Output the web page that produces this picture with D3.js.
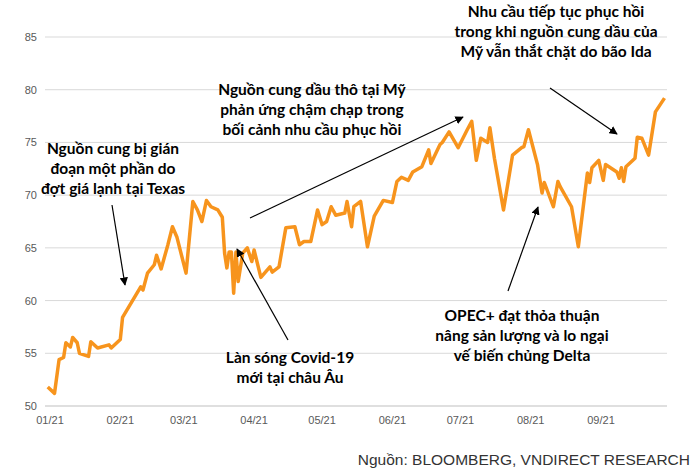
<!DOCTYPE html>
<html><head><meta charset="utf-8">
<script src="https://cdn.jsdelivr.net/npm/d3@7"></script>
<style>body{margin:0;background:#fff}</style></head>
<body><svg id="c" width="693" height="468"></svg>
<script>
const days=[-1,2,4,6,7,9,10,12,13,17,18,21,26,27,31,32,40,41,43,46,47,49,52,54,56,60,63,65,67,69,71,74,76,77,78,79,80,81,82,83,85,87,89,90,93,97,98,101,104,108,110,112,115,118,120,122,124,126,130,131,133,134,137,140,143,147,151,153,155,158,160,164,167,168,172,173,176,180,184,186,188,190,193,194,196,200,204,208,209,211,215,217,218,222,224,225,230,233,237,238,239,242,244,245,250,251,252,253,254,258,259,261,264,267,271];
const prices=[51.8,51.2,54.4,54.6,56,55.6,56.5,56,55,54.7,56.1,55.5,55.8,55.5,56.3,58.4,61.3,61,62.6,63.4,64.3,63,65.3,67,66,62.6,69.4,68.6,67.5,69.5,68.9,68.6,67.9,64.5,63.1,64.6,64.6,60.7,64.6,61.8,64.5,65,63.7,64.8,62.2,63.2,62.7,63.2,66.9,67,65.3,65.6,65.6,68.6,67.2,67.5,68.9,68.1,68.3,69.4,67,68.9,69.4,65.1,68,69.5,69.3,71.3,71.7,71.4,72.2,72.7,74.3,73,74.8,75,76,74.5,76.2,77,73.3,75.4,75,76.4,73.5,68.6,73.8,74.5,74.6,76.2,72.9,70.2,71.2,68.9,71.3,70.8,68.9,65.1,72.1,71.2,72.6,73.3,71.4,72.9,72.2,71.6,72.6,71.3,72.7,73.5,75.5,75.4,73.8,77.9,79.2];
const yTicks=[50,55,60,65,70,75,80,85];
const monthDays=[0,31,59,90,120,151,181,212,243];
const monthLabels=["01/21","02/21","03/21","04/21","05/21","06/21","07/21","08/21","09/21"];
const notes=[
 {lines:["Nguồn cung bị gián","đoạn một phần do","đợt giá lạnh tại Texas"],x:113,y:154,a:[112,205,125,285]},
 {lines:["Nguồn cung dầu thô tại Mỹ","phản ứng chậm chạp trong","bối cảnh nhu cầu phục hồi"],x:312,y:95,a:[250,218,463,117]},
 {lines:["Nhu cầu tiếp tục phục hồi","trong khi nguồn cung dầu của","Mỹ vẫn thắt chặt do bão Ida"],x:556,y:17,a:[550,88,617,134]},
 {lines:["Làn sóng Covid-19","mới tại châu Âu"],x:290,y:363,a:[288,340,237,249]},
 {lines:["OPEC+ đạt thỏa thuận","nâng sản lượng và lo ngại","vế biến chủng Delta"],x:522,y:321,a:[508,291,538,207]}
];
const svg=d3.select("#c");
const x=d3.scaleLinear().domain([0,243]).range([50,601]);
const y=d3.scaleLinear().domain([50,85]).range([406,37]);
svg.append("defs").append("marker").attr("id","ah").attr("viewBox","0 0 10 10").attr("refX",9).attr("refY",5)
 .attr("markerWidth",7).attr("markerHeight",7).attr("orient","auto").append("path").attr("d","M0,0L10,5L0,10z").attr("fill","#000");
svg.selectAll("line.g").data(yTicks).enter().append("line").attr("x1",45).attr("x2",667)
 .attr("y1",d=>y(d)).attr("y2",d=>y(d)).attr("stroke",d=>d===50?"#bfbfbf":"#d9d9d9").attr("stroke-width",1);
svg.selectAll("text.yt").data(yTicks).enter().append("text").attr("x",37).attr("y",d=>y(d)+4)
 .attr("text-anchor","end").attr("font-family","Liberation Sans, Arial").attr("font-size",11).attr("fill","#595959").text(d=>d);
svg.selectAll("text.xt").data(monthDays).enter().append("text").attr("x",d=>x(d)).attr("y",424)
 .attr("text-anchor","middle").attr("font-family","Liberation Sans, Arial").attr("font-size",11).attr("fill","#595959").text((d,i)=>monthLabels[i]);
svg.append("path").datum(days.map((d,i)=>[d,prices[i]])).attr("fill","none").attr("stroke","#F7941D")
 .attr("stroke-width",3.5).attr("stroke-linejoin","round").attr("d",d3.line().x(d=>x(d[0])).y(d=>y(d[1])));
notes.forEach(n=>{
 const t=svg.append("text").attr("font-family","Lato, sans-serif").attr("font-weight","bold").attr("font-size",15.5).attr("fill","#000").attr("text-anchor","middle");
 n.lines.forEach((l,i)=>t.append("tspan").attr("x",n.x).attr("y",n.y+i*20).text(l));
 svg.append("line").attr("x1",n.a[0]).attr("y1",n.a[1]).attr("x2",n.a[2]).attr("y2",n.a[3]).attr("stroke","#000").attr("stroke-width",1.2).attr("marker-end","url(#ah)");
});
svg.append("text").attr("x",690).attr("y",465).attr("text-anchor","end").attr("font-family","Liberation Sans, Arial").attr("font-size",15.5).attr("fill","#333").text("Nguồn: BLOOMBERG, VNDIRECT RESEARCH");
</script></body></html>
